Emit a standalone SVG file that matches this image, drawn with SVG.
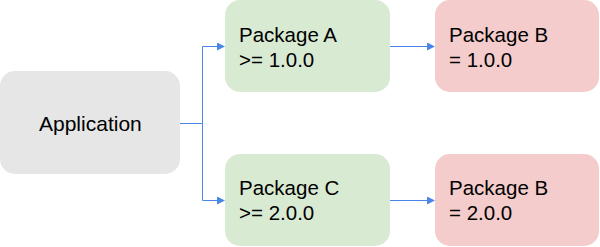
<svg xmlns="http://www.w3.org/2000/svg" width="600" height="247" viewBox="0 0 600 247">
<style>
text{font-family:"Liberation Sans",Arial,sans-serif;font-size:20.5px;fill:#000}
.g{fill:#d9ead3}.r{fill:#f4cccc}.a{fill:#e6e6e6}
.c{fill:none;stroke:#4a86e8;stroke-width:1}
</style>
<defs>
<marker id="ar" markerWidth="8" markerHeight="8" refX="7" refY="4" orient="auto" markerUnits="userSpaceOnUse">
<path d="M0,0 L8,4 L0,8 z" fill="#4a86e8"/>
</marker>
</defs>
<g id="connectors">
<path class="c" d="M180,123.5 H202.5 V46.5 H224" marker-end="url(#ar)"/>
<path class="c" d="M202.5,123.5 V200.5 H224" marker-end="url(#ar)"/>
<path class="c" d="M390,46.5 H434" marker-end="url(#ar)"/>
<path class="c" d="M390,200.5 H434" marker-end="url(#ar)"/>
</g>
<g id="application">
<rect class="a" x="0" y="71" width="180" height="103" rx="15"/>
<text x="39" y="131" style="font-size:21px">Application</text>
</g>
<g id="packageA">
<rect class="g" x="225" y="0" width="165" height="92" rx="15"/>
<text x="239" y="41.5">Package A</text>
<text x="239" y="66.5">&gt;= 1.0.0</text>
</g>
<g id="packageB1">
<rect class="r" x="435" y="0" width="164" height="92" rx="15"/>
<text x="449" y="41.5">Package B</text>
<text x="449" y="66.5">= 1.0.0</text>
</g>
<g id="packageC">
<rect class="g" x="225" y="154" width="165" height="92" rx="15"/>
<text x="239" y="195">Package C</text>
<text x="239" y="220">&gt;= 2.0.0</text>
</g>
<g id="packageB2">
<rect class="r" x="435" y="154" width="164" height="92" rx="15"/>
<text x="449" y="195">Package B</text>
<text x="449" y="220">= 2.0.0</text>
</g>
</svg>
